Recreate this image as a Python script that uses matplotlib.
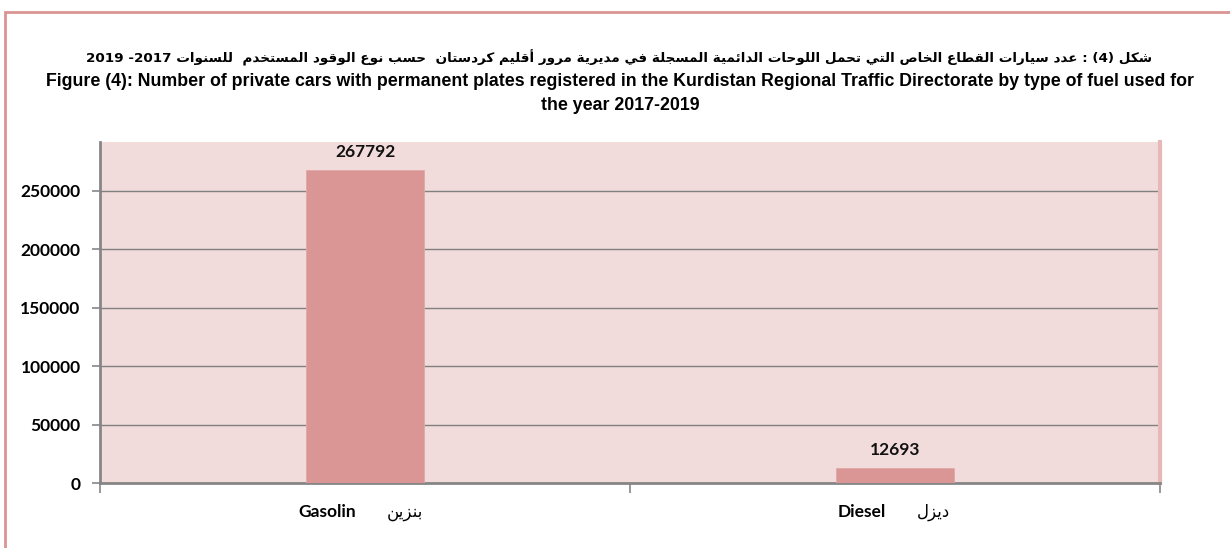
import re
import matplotlib
matplotlib.use("Agg")
import matplotlib.pyplot as plt
from matplotlib.patches import Rectangle
from matplotlib.transforms import blended_transform_factory, offset_copy

# data
categories_en = ["Gasolin", "Diesel"]
categories_ar = ["بنزين", "ديزل"]
values = [267792, 12693]
yticks = [0, 50000, 100000, 150000, 200000, 250000]
title_ar = "شكل (4) : عدد سيارات القطاع الخاص التي تحمل اللوحات الدائمية المسجلة في مديرية مرور أقليم كردستان  حسب نوع الوقود المستخدم  للسنوات 2017- 2019"
title_en = ["Figure (4): Number of private cars with permanent plates registered in the Kurdistan "
            "Regional Traffic Directorate by type of fuel used for",
            "the year 2017-2019"]

# minimal arabic shaping (presentation forms) + visual reordering
# letter -> (isolated form, joins to next letter?)
AR = {'ا': (0xFE8D, False), 'أ': (0xFE83, False), 'ب': (0xFE8F, True), 'ة': (0xFE93, False),
      'ت': (0xFE95, True), 'ج': (0xFE9D, True), 'ح': (0xFEA1, True), 'خ': (0xFEA5, True),
      'د': (0xFEA9, False), 'ر': (0xFEAD, False), 'ز': (0xFEAF, False), 'س': (0xFEB1, True),
      'ش': (0xFEB5, True), 'ص': (0xFEB9, True), 'ط': (0xFEC1, True), 'ع': (0xFEC9, True),
      'ف': (0xFED1, True), 'ق': (0xFED5, True), 'ك': (0xFED9, True), 'ل': (0xFEDD, True),
      'م': (0xFEE1, True), 'ن': (0xFEE5, True), 'و': (0xFEED, False), 'ي': (0xFEF1, True),
      'ئ': (0xFE89, True), 'ه': (0xFEE9, True)}


def rtl(s):
    out = []
    for i, c in enumerate(s):
        if c not in AR:
            out.append(c)
            continue
        base, dual = AR[c]
        prev = s[i - 1] if i > 0 else ''
        nxt = s[i + 1] if i + 1 < len(s) else ''
        jp = prev in AR and AR[prev][1]
        jn = dual and nxt in AR
        form = 3 if (jp and jn) else 1 if jp else 2 if jn else 0
        out.append(chr(base + form))
    v = ''.join(reversed(out))
    v = re.sub(r'[0-9]+', lambda m: m.group(0)[::-1], v)
    return v.translate(str.maketrans('()', ')('))


AR_FONT = ['DejaVu Sans']
TITLE_FONT = ['Liberation Sans', 'DejaVu Sans']
NUM_FONT = ['Lato', 'DejaVu Sans']

fig = plt.figure(figsize=(12.3, 5.48), dpi=100)
W, H = 1230, 548
ax = fig.add_axes([100 / W, 1 - 483 / H, 1060 / W, 341 / H])

bar_c = "#d99694"
ax.set_facecolor("#f2dcdb")
x = list(range(len(values)))
ax.bar(x, values, width=0.222, color=bar_c, edgecolor="#e0a8a6", linewidth=0.6, zorder=3)
ax.set_xlim(-0.5, len(values) - 0.5)
ax.set_ylim(0, 291700)
ax.set_yticks(yticks)
ax.set_yticklabels([str(t) for t in yticks], fontfamily=NUM_FONT, fontweight='bold', fontsize=12.5)
ax.yaxis.grid(True, color="#808080", linewidth=1.0, zorder=1)
ax.set_axisbelow(True)
ax.tick_params(axis='y', length=6, width=1.2, color="#868686", pad=8)
ax.set_xticks([i - 0.5 for i in range(len(values) + 1)])
ax.set_xticklabels([])
ax.tick_params(axis='x', length=7, width=1.2, color="#868686", direction='out')
for s in ["left", "bottom"]:
    ax.spines[s].set_color("#868686")
    ax.spines[s].set_linewidth(2)
ax.spines["top"].set_visible(False)
ax.spines["right"].set_color("#e6b9b8")
ax.spines["right"].set_linewidth(3)

for i, v in enumerate(values):
    ax.annotate(str(v), (i, v), xytext=(0, 13), textcoords='offset points', ha='center', va='center',
                fontfamily=NUM_FONT, fontweight='bold', fontsize=12.5, color="#111111")

trans = blended_transform_factory(ax.transData, ax.transAxes)
for i, (en, ar) in enumerate(zip(categories_en, categories_ar)):
    ax.text(i, -0.085, en, transform=offset_copy(trans, fig=fig, x=-9, y=0, units='dots'),
            ha='right', va='center', fontfamily=NUM_FONT, fontweight='bold', fontsize=12.5)
    ax.text(i, -0.085, rtl(ar), transform=offset_copy(trans, fig=fig, x=22, y=0, units='dots'),
            ha='left', va='center', fontfamily=AR_FONT, fontsize=12)

# titles
fig.text(619 / W, 1 - 58 / H, rtl(title_ar), ha='center', va='center', fontfamily=AR_FONT,
         fontweight='bold', fontsize=9.7)
for k, line in enumerate(title_en):
    fig.text(620 / W, 1 - (82 + 24 * k) / H, line, ha='center', va='center', fontfamily=TITLE_FONT,
             fontweight='bold', fontsize=12.8)

# chart frame
fig.patches.append(Rectangle((5 / W, -0.1), 1.2, 1 - 12 / H + 0.1, transform=fig.transFigure,
                             fill=False, edgecolor="#d99594", linewidth=2))

fig.savefig("out.png", dpi=100)
